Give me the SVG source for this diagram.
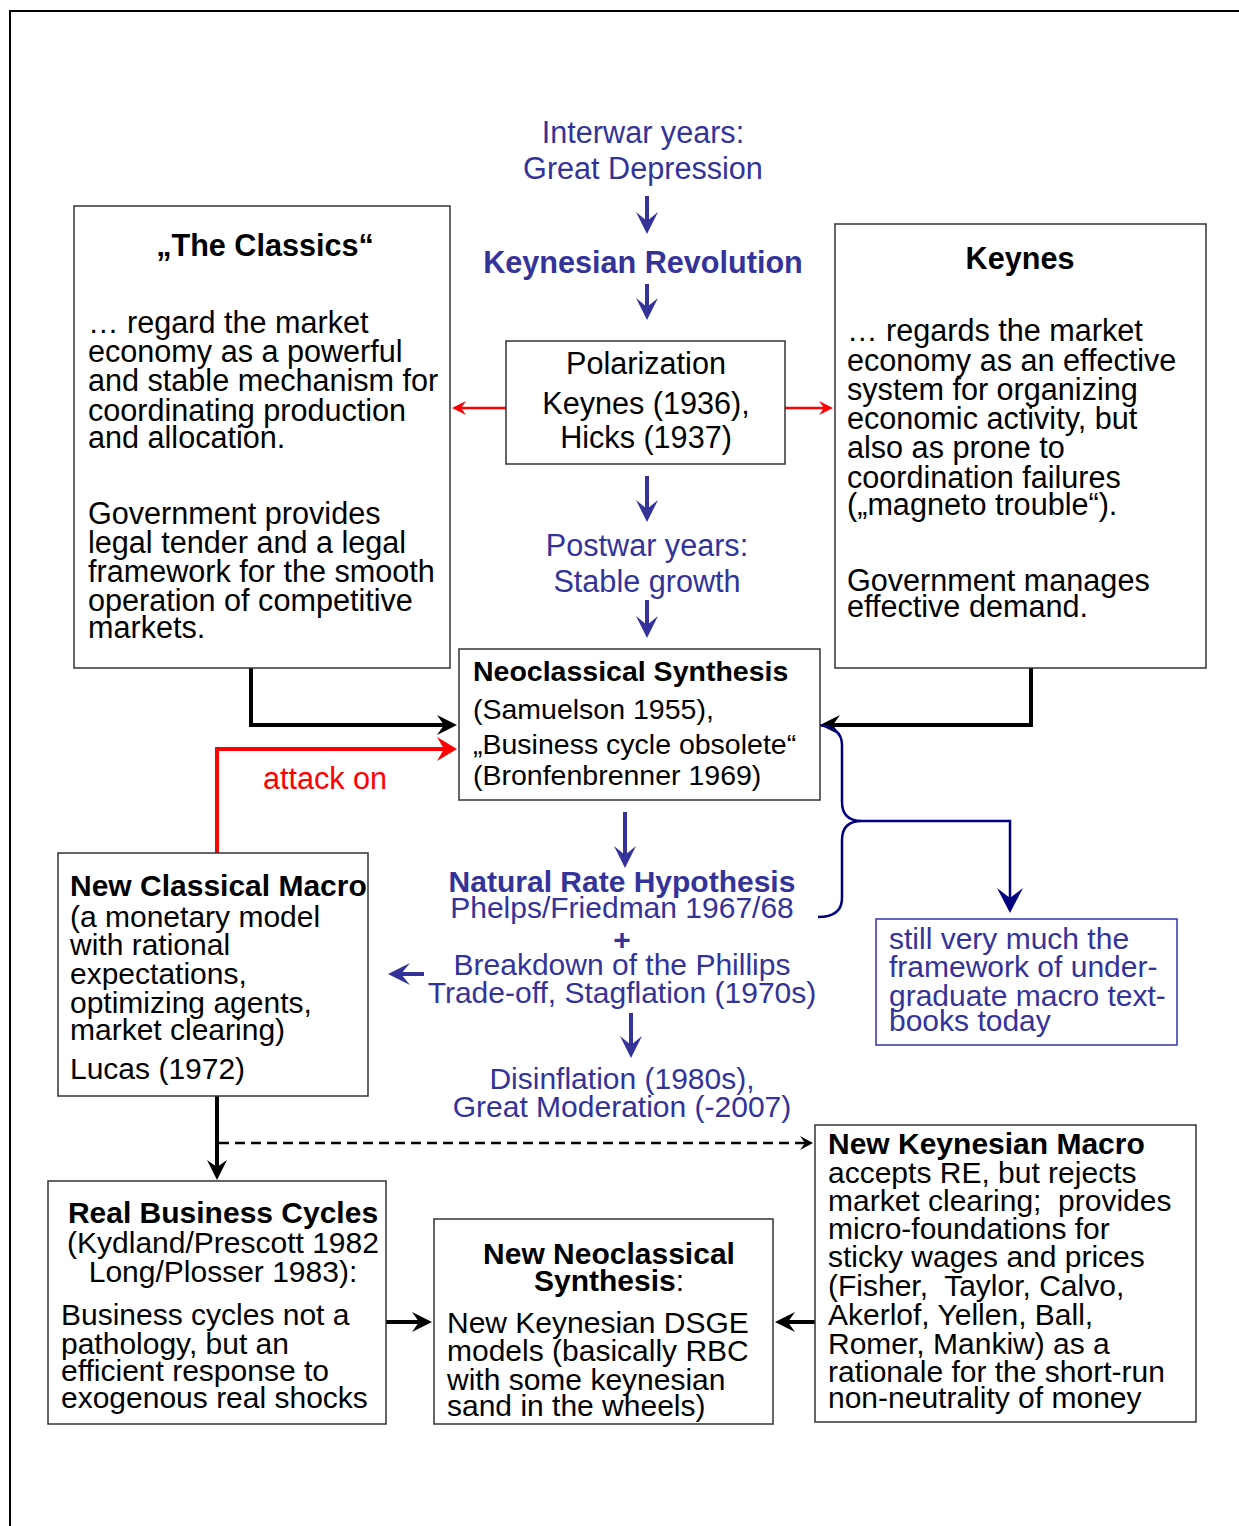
<svg xmlns="http://www.w3.org/2000/svg" width="1239" height="1526" viewBox="0 0 1239 1526">
<style>
text{font-family:"Liberation Sans",Arial,sans-serif;font-size:30px;fill:#000}
.L{font-size:30.6px}
.b{font-weight:bold}
.blue{fill:#333399}
.red{fill:#ff0000}
.c{text-anchor:middle}
.box{fill:#fff;stroke:#333;stroke-width:1.5}
.bbox{fill:#fff;stroke:#3333aa;stroke-width:1.5}
.ab{stroke:#333399;stroke-width:4;fill:none}
.ak{stroke:#000;stroke-width:4;fill:none}
.ar{stroke:#ff0000;stroke-width:4;fill:none}
.ar2{stroke:#ff0000;stroke-width:2.5;fill:none}
.an{stroke:#000080;stroke-width:2.5;fill:none}
.dash{stroke:#000;stroke-width:2.5;fill:none;stroke-dasharray:10 6}
</style>
<defs>
<marker id="mb" markerUnits="userSpaceOnUse" viewBox="-30 -15 35 30" markerWidth="35" markerHeight="30" refX="-8" refY="0" orient="auto"><path d="M0,0 L-22,-11 L-13,0 L-22,11 Z" fill="#333399"/></marker>
<marker id="mk" markerUnits="userSpaceOnUse" viewBox="-30 -15 35 30" markerWidth="35" markerHeight="30" refX="-8" refY="0" orient="auto"><path d="M0,0 L-20,-10 L-13,0 L-20,10 Z" fill="#000"/></marker>
<marker id="mr" markerUnits="userSpaceOnUse" viewBox="-30 -15 35 30" markerWidth="35" markerHeight="30" refX="-8" refY="0" orient="auto"><path d="M0,0 L-20,-12 L-13,0 L-20,12 Z" fill="#ff0000"/></marker>
<marker id="mr2" markerUnits="userSpaceOnUse" viewBox="-20 -10 25 20" markerWidth="25" markerHeight="20" refX="-4" refY="0" orient="auto"><path d="M0,0 L-14,-7 L-9,0 L-14,7 Z" fill="#ff0000"/></marker>
<marker id="mn" markerUnits="userSpaceOnUse" viewBox="-30 -15 35 30" markerWidth="35" markerHeight="30" refX="-8" refY="0" orient="auto"><path d="M0,0 L-25,-13 L-15,0 L-25,13 Z" fill="#000080"/></marker>
<marker id="md" markerUnits="userSpaceOnUse" viewBox="-20 -10 25 20" markerWidth="25" markerHeight="20" refX="-3" refY="0" orient="auto"><path d="M0,0 L-13,-7 L-8,0 L-13,7 Z" fill="#000"/></marker>
</defs>

<path d="M10,1526 V11 H1239" fill="none" stroke="#000" stroke-width="2"/>

<g id="connectors">
<path class="ab" d="M647,196 V226" marker-end="url(#mb)"/>
<path class="ab" d="M647,284 V312" marker-end="url(#mb)"/>
<path class="ar2" d="M506,408 H456" marker-end="url(#mr2)"/>
<path class="ar2" d="M785,408 H829" marker-end="url(#mr2)"/>
<path class="ab" d="M647,476 V514" marker-end="url(#mb)"/>
<path class="ab" d="M647,600 V630" marker-end="url(#mb)"/>
<path class="ak" d="M251,668 V725 H449" marker-end="url(#mk)"/>
<path class="ak" d="M1031,668 V725 H828" marker-end="url(#mk)"/>
<path class="ar" d="M217,853 V749 H449" marker-end="url(#mr)"/>
<path class="ab" d="M625,812 V860" marker-end="url(#mb)"/>
<path class="ab" d="M424,974 H396" marker-end="url(#mb)"/>
<path class="ab" d="M631,1013 V1050" marker-end="url(#mb)"/>
<path class="an" d="M818,725 Q842,727 842,745 V802 Q842,821 862,821 Q842,821 842,840 V898 Q842,917 818,917"/>
<path class="an" d="M862,821 H1010 V905" marker-end="url(#mn)"/>
<path class="ak" d="M217,1096 V1172" marker-end="url(#mk)"/>
<path class="dash" d="M219,1143 H810" marker-end="url(#md)"/>
<path class="ak" d="M386,1322 H424" marker-end="url(#mk)"/>
<path class="ak" d="M815,1322 H783" marker-end="url(#mk)"/>
</g>

<g id="interwar">
<text class="blue c L" x="643" y="143">Interwar years:</text>
<text class="blue c L" x="643" y="179">Great Depression</text>
</g>
<g id="keynesian-revolution">
<text class="blue b c L" x="643" y="273">Keynesian Revolution</text>
</g>

<g id="classics">
<rect class="box" x="74" y="206" width="376" height="462"/>
<text class="b c L" x="265" y="256">„The Classics“</text>
<text class="L" x="88" y="333">… regard the market</text>
<text class="L" x="88" y="362">economy as a powerful</text>
<text class="L" x="88" y="391">and stable mechanism for</text>
<text class="L" x="88" y="421">coordinating production</text>
<text class="L" x="88" y="448">and allocation.</text>
<text class="L" x="88" y="524">Government provides</text>
<text class="L" x="88" y="553">legal tender and a legal</text>
<text class="L" x="88" y="582">framework for the smooth</text>
<text class="L" x="88" y="611">operation of competitive</text>
<text class="L" x="88" y="638">markets.</text>
</g>

<g id="polarization">
<rect class="box" x="506" y="341" width="279" height="123"/>
<text class="c L" x="646" y="374">Polarization</text>
<text class="c L" x="646" y="414">Keynes (1936),</text>
<text class="c L" x="646" y="448">Hicks (1937)</text>
</g>

<g id="keynes">
<rect class="box" x="835" y="224" width="371" height="444"/>
<text class="b c L" x="1020" y="269">Keynes</text>
<text class="L" x="847" y="341">… regards the market</text>
<text class="L" x="847" y="371">economy as an effective</text>
<text class="L" x="847" y="400">system for organizing</text>
<text class="L" x="847" y="429">economic activity, but</text>
<text class="L" x="847" y="458">also as prone to</text>
<text class="L" x="847" y="488">coordination failures</text>
<text class="L" x="847" y="515">(„magneto trouble“).</text>
<text class="L" x="847" y="591">Government manages</text>
<text class="L" x="847" y="617">effective demand.</text>
</g>

<g id="postwar">
<text class="blue c L" x="647" y="556">Postwar years:</text>
<text class="blue c L" x="647" y="592">Stable growth</text>
</g>

<g id="neoclassical-synthesis">
<rect class="box" x="459" y="649" width="361" height="151"/>
<text class="b" x="473" y="681" style="font-size:28.5px">Neoclassical Synthesis</text>
<text x="473" y="719" style="font-size:28.5px">(Samuelson 1955),</text>
<text x="473" y="754" style="font-size:28.5px">„Business cycle obsolete“</text>
<text x="473" y="785" style="font-size:28.5px">(Bronfenbrenner 1969)</text>
</g>

<g id="attack-label">
<text class="red c L" x="325" y="789">attack on</text>
</g>

<g id="natural-rate">
<text class="blue b c" x="622" y="892">Natural Rate Hypothesis</text>
<text class="blue c" x="622" y="918">Phelps/Friedman 1967/68</text>
<text class="blue b c" x="622" y="950">+</text>
<text class="blue c" x="622" y="975">Breakdown of the Phillips</text>
<text class="blue c" x="622" y="1003">Trade-off, Stagflation (1970s)</text>
</g>

<g id="disinflation">
<text class="blue c" x="622" y="1089">Disinflation (1980s),</text>
<text class="blue c" x="622" y="1117">Great Moderation (-2007)</text>
</g>

<g id="textbooks">
<rect class="bbox" x="876" y="919" width="301" height="126"/>
<text class="blue" x="889" y="949">still very much the</text>
<text class="blue" x="889" y="977">framework of under-</text>
<text class="blue" x="889" y="1006">graduate macro text-</text>
<text class="blue" x="889" y="1031">books today</text>
</g>

<g id="new-classical">
<rect class="box" x="58" y="853" width="310" height="243"/>
<text class="b" x="70" y="896">New Classical Macro</text>
<text x="70" y="927">(a monetary model</text>
<text x="70" y="955">with rational</text>
<text x="70" y="984">expectations,</text>
<text x="70" y="1013">optimizing agents,</text>
<text x="70" y="1040">market clearing)</text>
<text x="70" y="1079">Lucas (1972)</text>
</g>

<g id="rbc">
<rect class="box" x="48" y="1181" width="338" height="243"/>
<text class="b c" x="223" y="1223">Real Business Cycles</text>
<text class="c" x="223" y="1253">(Kydland/Prescott 1982</text>
<text class="c" x="223" y="1282">Long/Plosser 1983):</text>
<text x="61" y="1325">Business cycles not a</text>
<text x="61" y="1354">pathology, but an</text>
<text x="61" y="1381">efficient response to</text>
<text x="61" y="1408">exogenous real shocks</text>
</g>

<g id="new-neoclassical">
<rect class="box" x="434" y="1219" width="339" height="205"/>
<text class="b c" x="609" y="1264">New Neoclassical</text>
<text class="c" x="609" y="1291"><tspan class="b">Synthesis</tspan>:</text>
<text x="447" y="1333">New Keynesian DSGE</text>
<text x="447" y="1361">models (basically RBC</text>
<text x="447" y="1390">with some keynesian</text>
<text x="447" y="1416">sand in the wheels)</text>
</g>

<g id="new-keynesian">
<rect class="box" x="815" y="1125" width="381" height="297"/>
<text class="b" x="828" y="1154">New Keynesian Macro</text>
<text x="828" y="1183">accepts RE, but rejects</text>
<text x="828" y="1211" xml:space="preserve">market clearing;  provides</text>
<text x="828" y="1239">micro-foundations for</text>
<text x="828" y="1267">sticky wages and prices</text>
<text x="828" y="1296" xml:space="preserve">(Fisher,  Taylor, Calvo,</text>
<text x="828" y="1325">Akerlof, Yellen, Ball,</text>
<text x="828" y="1354">Romer, Mankiw) as a</text>
<text x="828" y="1382">rationale for the short-run</text>
<text x="828" y="1408">non-neutrality of money</text>
</g>
</svg>
